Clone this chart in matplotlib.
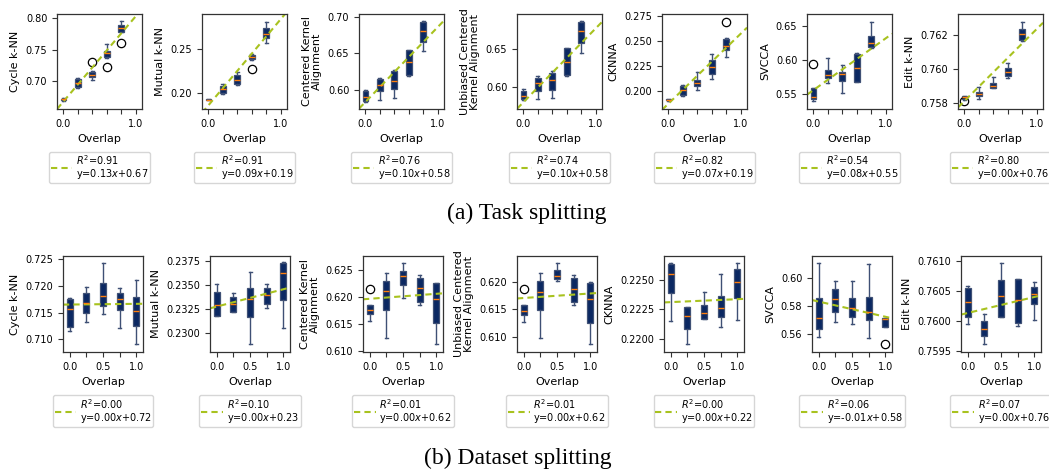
import numpy as np
import matplotlib.pyplot as plt

# metric names (y labels), same order in both rows
metrics = ["Cycle k-NN", "Mutual k-NN", "Centered Kernel\nAlignment",
           "Unbiased Centered\nKernel Alignment", "CKNNA", "SVCCA", "Edit k-NN"]

# ---- (a) task splitting ----
task_overlap = [0.0, 0.2, 0.4, 0.6, 0.8]
task_whislo = [
    [0.669, 0.689, 0.702, 0.7365, 0.7778],
    [0.1915, 0.1985, 0.2091, 0.2380, 0.2567],
    [0.583, 0.5862, 0.589, 0.6187, 0.6528],
    [0.582, 0.5833, 0.5854, 0.6142, 0.6451],
    [0.1902, 0.195, 0.2007, 0.2117, 0.234],
    [0.540, 0.5662, 0.5516, 0.568, 0.618],
    [0.7582, 0.75824, 0.75888, 0.75947, 0.76167],
]
task_q1 = [
    [0.6705, 0.691, 0.7063, 0.7381, 0.7787],
    [0.1918, 0.1997, 0.2100, 0.2385, 0.2624],
    [0.5843, 0.598, 0.6014, 0.6197, 0.6656],
    [0.5833, 0.5943, 0.5956, 0.6155, 0.6584],
    [0.1905, 0.1957, 0.2047, 0.2167, 0.2407],
    [0.543, 0.5735, 0.5696, 0.5686, 0.6189],
    [0.75824, 0.75843, 0.75888, 0.7596, 0.76171],
]
task_med = [
    [0.6714, 0.6968, 0.710, 0.7444, 0.7851],
    [0.1924, 0.2046, 0.2145, 0.2415, 0.2674],
    [0.5908, 0.6073, 0.6124, 0.638, 0.6807],
    [0.588, 0.6045, 0.6089, 0.6324, 0.6739],
    [0.191, 0.2007, 0.208, 0.224, 0.2447],
    [0.5466, 0.5784, 0.5794, 0.5882, 0.6247],
    [0.75836, 0.75855, 0.75902, 0.75985, 0.76206],
]
task_q3 = [
    [0.6722, 0.7036, 0.7153, 0.7486, 0.7894],
    [0.1930, 0.2080, 0.2205, 0.2434, 0.2739],
    [0.598, 0.6142, 0.6252, 0.6541, 0.6931],
    [0.5943, 0.612, 0.6178, 0.6509, 0.6862],
    [0.1918, 0.2047, 0.2107, 0.2307, 0.2517],
    [0.559, 0.5857, 0.5832, 0.609, 0.6354],
    [0.75843, 0.75868, 0.75918, 0.76005, 0.76233],
]
task_whishi = [
    [0.6728, 0.7057, 0.7168, 0.7587, 0.7957],
    [0.1933, 0.2099, 0.2243, 0.2440, 0.2814],
    [0.6004, 0.6165, 0.6266, 0.6551, 0.6945],
    [0.597, 0.6138, 0.6212, 0.6517, 0.6875],
    [0.1922, 0.206, 0.219, 0.2367, 0.2523],
    [0.559, 0.6028, 0.593, 0.611, 0.6563],
    [0.75846, 0.75894, 0.75956, 0.76035, 0.76278],
]
task_fliers = [
    [[], [], [0.731], [0.7222], [0.7603]],
    [[], [], [], [0.2274], []],
    [[], [], [], [], []],
    [[], [], [], [], []],
    [[], [], [], [], [0.269]],
    [[0.5944], [], [], [], []],
    [[0.75812], [], [], [], []],
]
task_ylim = [(0.656, 0.807), (0.1817, 0.2902), (0.5738, 0.7037), (0.5704, 0.6964),
             (0.1817, 0.2767), (0.5285, 0.6675), (0.75767, 0.76323)]
task_yticks = [[0.70, 0.75, 0.80], [0.20, 0.25], [0.60, 0.65, 0.70], [0.60, 0.65],
               [0.200, 0.225, 0.250, 0.275], [0.55, 0.60, 0.65], [0.758, 0.760, 0.762]]
task_slope = [0.135, 0.098, 0.102, 0.0976, 0.0697, 0.0755, 0.0042]
task_icpt = [0.668, 0.186, 0.5835, 0.5795, 0.1871, 0.5562, 0.75814]
task_r2 = [0.91, 0.91, 0.76, 0.74, 0.82, 0.54, 0.80]
task_eq = [("0.13", "0.67"), ("0.09", "0.19"), ("0.10", "0.58"), ("0.10", "0.58"),
           ("0.07", "0.19"), ("0.08", "0.55"), ("0.00", "0.76")]

# ---- (b) dataset splitting ----
data_overlap = [0.0, 0.25, 0.5, 0.75, 1.0]
data_whislo = [
    [0.71161, 0.7133, 0.71473, 0.71218, 0.70913],
    [0.2318, 0.23218, 0.22886, 0.23266, 0.2306],
    [0.61569, 0.61246, 0.6199, 0.61857, 0.61141],
    [0.61276, 0.60971, 0.6202, 0.61583, 0.60866],
    [0.22147, 0.21955, 0.22167, 0.22099, 0.22155],
    [0.558, 0.5684, 0.567, 0.5573, 0.5652],
    [0.75995, 0.75962, 0.76006, 0.75992, 0.76002],
]
data_q1 = [
    [0.71236, 0.71486, 0.71622, 0.71548, 0.71249],
    [0.2318, 0.23218, 0.23173, 0.23301, 0.2335],
    [0.61692, 0.61766, 0.62225, 0.61918, 0.61533],
    [0.61398, 0.61491, 0.62055, 0.61643, 0.61258],
    [0.22387, 0.22082, 0.22167, 0.22183, 0.22347],
    [0.56336, 0.576, 0.5724, 0.570, 0.5652],
    [0.76006, 0.75974, 0.76006, 0.75997, 0.76028],
]
data_med = [
    [0.71561, 0.71673, 0.71809, 0.71753, 0.71529],
    [0.23294, 0.23301, 0.23353, 0.23397, 0.2363],
    [0.61766, 0.62114, 0.6239, 0.62164, 0.61962],
    [0.61478, 0.61828, 0.62116, 0.61871, 0.61688],
    [0.22548, 0.22189, 0.22218, 0.2226, 0.22486],
    [0.5717, 0.5849, 0.5784, 0.576, 0.5705],
    [0.76032, 0.75987, 0.76041, 0.76034, 0.76045],
]
data_q3 = [
    [0.71748, 0.7186, 0.72046, 0.71871, 0.7179],
    [0.23432, 0.2338, 0.23473, 0.23467, 0.2373],
    [0.61857, 0.62304, 0.62488, 0.62347, 0.62256],
    [0.61583, 0.62029, 0.62226, 0.62074, 0.61993],
    [0.22633, 0.22269, 0.22288, 0.22367, 0.22591],
    [0.58563, 0.5923, 0.5856, 0.5868, 0.5713],
    [0.76055, 0.7600, 0.76068, 0.76069, 0.76056],
]
data_whishi = [
    [0.71766, 0.71983, 0.7242, 0.71964, 0.72108],
    [0.23508, 0.23415, 0.23633, 0.23511, 0.2374],
    [0.61857, 0.62439, 0.62622, 0.62408, 0.6227],
    [0.61583, 0.62165, 0.62349, 0.62134, 0.62000],
    [0.22641, 0.22269, 0.22401, 0.22548, 0.22641],
    [0.6108, 0.5983, 0.598, 0.6101, 0.5713],
    [0.76058, 0.76012, 0.76096, 0.76069, 0.76064],
]
data_fliers = [
    [[], [], [], [], []],
    [[], [], [], [], []],
    [[0.62146], [], [], [], []],
    [[0.61871], [], [], [], []],
    [[], [], [], [], []],
    [[], [], [], [], [0.5526]],
    [[], [], [], [], []],
]
data_ylim = [(0.7076, 0.7256), (0.22806, 0.23802), (0.6099, 0.6276), (0.6072, 0.6248),
             (0.21887, 0.22703), (0.5471, 0.616), (0.75948, 0.76108)]
data_yticks = [[0.710, 0.715, 0.720, 0.725], [0.2300, 0.2325, 0.2350, 0.2375],
               [0.610, 0.615, 0.620, 0.625], [0.610, 0.615, 0.620],
               [0.2200, 0.2225, 0.2250], [0.56, 0.58, 0.60],
               [0.7595, 0.7600, 0.7605, 0.7610]]
data_slope = [0.00013, 0.0018, 0.00092, 0.00083, 0.00025, -0.0109, 0.000267]
data_icpt = [0.7165, 0.23277, 0.61971, 0.6171, 0.22311, 0.5833, 0.76013]
data_r2 = [0.00, 0.10, 0.01, 0.01, 0.00, 0.06, 0.07]
data_eq = [("0.00", "0.72"), ("0.00", "0.23"), ("0.00", "0.62"), ("0.00", "0.62"),
           ("0.00", "0.22"), ("-0.01", "0.58"), ("0.00", "0.76")]

W, H = 1049, 471
BOX_FACE = "#0b2862"
BOX_EDGE = "#3f5075"
FIT_COLOR = "#a8c21f"

fig = plt.figure(figsize=(W / 100, H / 100), dpi=100)


def draw_panel(rect, positions, i, lo, q1, med, q3, hi, fl, ylim, yticks,
               slope, icpt, r2, eq, xticks, xlabels, width, xlim):
    ax = fig.add_axes(rect)
    stats = [dict(whislo=lo[i][k], q1=q1[i][k], med=med[i][k], q3=q3[i][k],
                  whishi=hi[i][k], fliers=fl[i][k]) for k in range(len(positions))]
    ax.bxp(stats, positions=positions, widths=width, patch_artist=True,
           manage_ticks=False,
           boxprops=dict(facecolor=BOX_FACE, edgecolor=BOX_EDGE, linewidth=0.9),
           whiskerprops=dict(color=BOX_EDGE, linewidth=1.0),
           capprops=dict(color=BOX_EDGE, linewidth=1.0),
           medianprops=dict(color="#ff7f0e", linewidth=1.0),
           flierprops=dict(marker="o", markerfacecolor="none",
                           markeredgecolor="black", markersize=6, markeredgewidth=0.9))
    xs = np.array(xlim)
    label = "$R^2$={:.2f}\ny={}$x$+{}".format(r2[i], eq[i][0], eq[i][1])
    ax.plot(xs, slope[i] * xs + icpt[i], linestyle=(0, (3, 2)), color=FIT_COLOR,
            linewidth=1.5, label=label)
    ax.set_xlim(*xlim)
    ax.set_ylim(*ylim[i])
    ax.set_xticks(xticks)
    ax.set_xticklabels(xlabels)
    ax.set_yticks(yticks[i])
    ax.ticklabel_format(axis="y", useOffset=False)
    ax.tick_params(labelsize=7, width=0.8, length=3.5, color="#333333")
    for s in ax.spines.values():
        s.set_color("#333333")
        s.set_linewidth(0.9)
    ax.set_xlabel("Overlap", fontsize=8)
    ax.set_ylabel(metrics[i], fontsize=8, linespacing=1.0)
    leg = ax.legend(loc="upper center", bbox_to_anchor=(0.5, -0.45), borderaxespad=0,
                    fontsize=7, handlelength=2.2, handletextpad=0.4, borderpad=0.2,
                    labelspacing=0.2)
    for t in leg.get_texts():
        t.set_multialignment("left")
        t.set_linespacing(1.0)
    return ax


# axes placement in pixels (left edges), widths and vertical extents
top_left = [57, 202, 359, 517, 662, 807, 958]
bot_left = [63, 210, 363, 517, 664, 812, 961]

for i in range(7):
    rect = [top_left[i] / W, 1 - 109 / H, 85 / W, 95 / H]
    draw_panel(rect, task_overlap, i, task_whislo, task_q1, task_med, task_q3,
               task_whishi, task_fliers, task_ylim, task_yticks, task_slope,
               task_icpt, task_r2, task_eq,
               [0.0, 0.2, 0.4, 0.6, 0.8, 1.0], ["0.0", "", "", "", "", "1.0"],
               0.08, (-0.09, 1.09))

for i in range(7):
    rect = [bot_left[i] / W, 1 - 352 / H, 80 / W, 96 / H]
    draw_panel(rect, data_overlap, i, data_whislo, data_q1, data_med, data_q3,
               data_whishi, data_fliers, data_ylim, data_yticks, data_slope,
               data_icpt, data_r2, data_eq,
               [0.0, 0.25, 0.5, 0.75, 1.0], ["0.0", "", "0.5", "", "1.0"],
               0.09, (-0.1, 1.1))

fig.text(527 / W, 1 - 213 / H, "(a) Task splitting", ha="center", va="center",
         family="Liberation Serif", fontsize=17)
fig.text(518 / W, 1 - 458 / H, "(b) Dataset splitting", ha="center", va="center",
         family="Liberation Serif", fontsize=17)

fig.savefig("out.png", dpi=100)
